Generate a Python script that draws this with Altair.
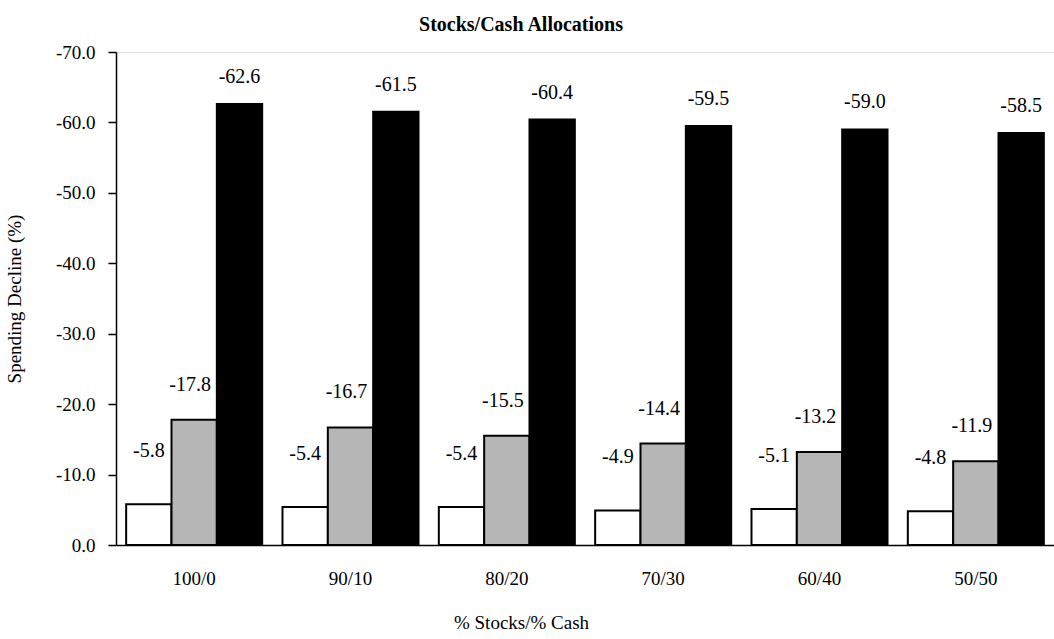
import altair as alt
import pandas as pd

# Stock/cash mixes along the x axis
allocations = ["100/0", "90/10", "80/20", "70/30", "60/40", "50/50"]

# Spending decline (%) for the three outcome series in each mix
series_names = ["Median", "Bad", "Worst"]
median_decline = [-5.8, -5.4, -5.4, -4.9, -5.1, -4.8]
bad_decline = [-17.8, -16.7, -15.5, -14.4, -13.2, -11.9]
worst_decline = [-62.6, -61.5, -60.4, -59.5, -59.0, -58.5]

series_values = [median_decline, bad_decline, worst_decline]
fills = ["#ffffff", "#b6b6b6", "#000000"]
# vertical / horizontal nudges of the value labels per series
label_lift = {"Median": -53, "Bad": -35, "Worst": -27}
label_shift = {"Median": 0, "Bad": -4, "Worst": 0}

rows = []
for name, vals in zip(series_names, series_values):
    for alloc, v in zip(allocations, vals):
        rows.append({"alloc": alloc, "series": name, "value": v,
                     "label": f"{v:.1f}"})
df = pd.DataFrame(rows)

FONT = "Liberation Serif"

x_enc = alt.X(
    "alloc:N",
    sort=allocations,
    scale=alt.Scale(paddingInner=0.13, paddingOuter=0.065),
    axis=alt.Axis(
        title="% Stocks/% Cash",
        labelAngle=0,
        ticks=False,
        labelPadding=24,
        labelFontSize=19,
        labelFont=FONT,
        labelColor="black",
        titleFont=FONT,
        titleFontSize=19,
        titleFontWeight="normal",
        titleColor="black",
        titlePadding=25,
        titleX=405,
        titleAlign="center",
        domainColor="black",
        domainWidth=1.5,
    ),
)
xoff_enc = alt.XOffset("series:N", sort=series_names,
                       scale=alt.Scale(paddingInner=0, paddingOuter=0))
y_enc = alt.Y(
    "value:Q",
    scale=alt.Scale(domain=[-70, 0], reverse=True, nice=False),
    axis=alt.Axis(
        title="Spending Decline (%)",
        values=[-70, -60, -50, -40, -30, -20, -10, 0],
        labelExpr="datum.value < 0 ? '-' + format(-datum.value, '.1f') : format(datum.value, '.1f')",
        grid=False,
        tickSize=8,
        tickColor="black",
        tickWidth=1.5,
        domainColor="black",
        domainWidth=1.5,
        labelPadding=13,
        labelFontSize=19,
        labelFont=FONT,
        labelColor="black",
        titleFont=FONT,
        titleFontSize=19,
        titleFontWeight="normal",
        titleColor="black",
        titlePadding=31,
    ),
)

base = alt.Chart(df)

bars = base.mark_bar(stroke="black", strokeWidth=2).encode(
    x=x_enc,
    xOffset=xoff_enc,
    y=y_enc,
    color=alt.Color("series:N", sort=series_names,
                    scale=alt.Scale(domain=series_names, range=fills),
                    legend=None),
)

label_layers = [
    base.transform_filter(alt.datum.series == name)
    .mark_text(font=FONT, fontSize=20, color="black", baseline="middle",
               dy=label_lift[name], dx=label_shift[name])
    .encode(x=x_enc, xOffset=xoff_enc, y=y_enc, text="label:N")
    for name in series_names
]

chart = (
    alt.layer(bars, *label_layers)
    .properties(
        width=938,
        height=493,
        padding={"left": 116, "top": 52, "right": 0, "bottom": 94},
        autosize=alt.AutoSizeParams(type="none"),
        title=alt.TitleParams(
            "Stocks/Cash Allocations",
            font=FONT,
            fontSize=20,
            fontWeight="bold",
            color="black",
            anchor="middle",
            dx=-64,
            offset=8,
        ),
    )
    .configure_view(stroke=None)
    .configure(background="white")
)

chart.save("out.html", embed_options={"renderer": "svg", "actions": False})
